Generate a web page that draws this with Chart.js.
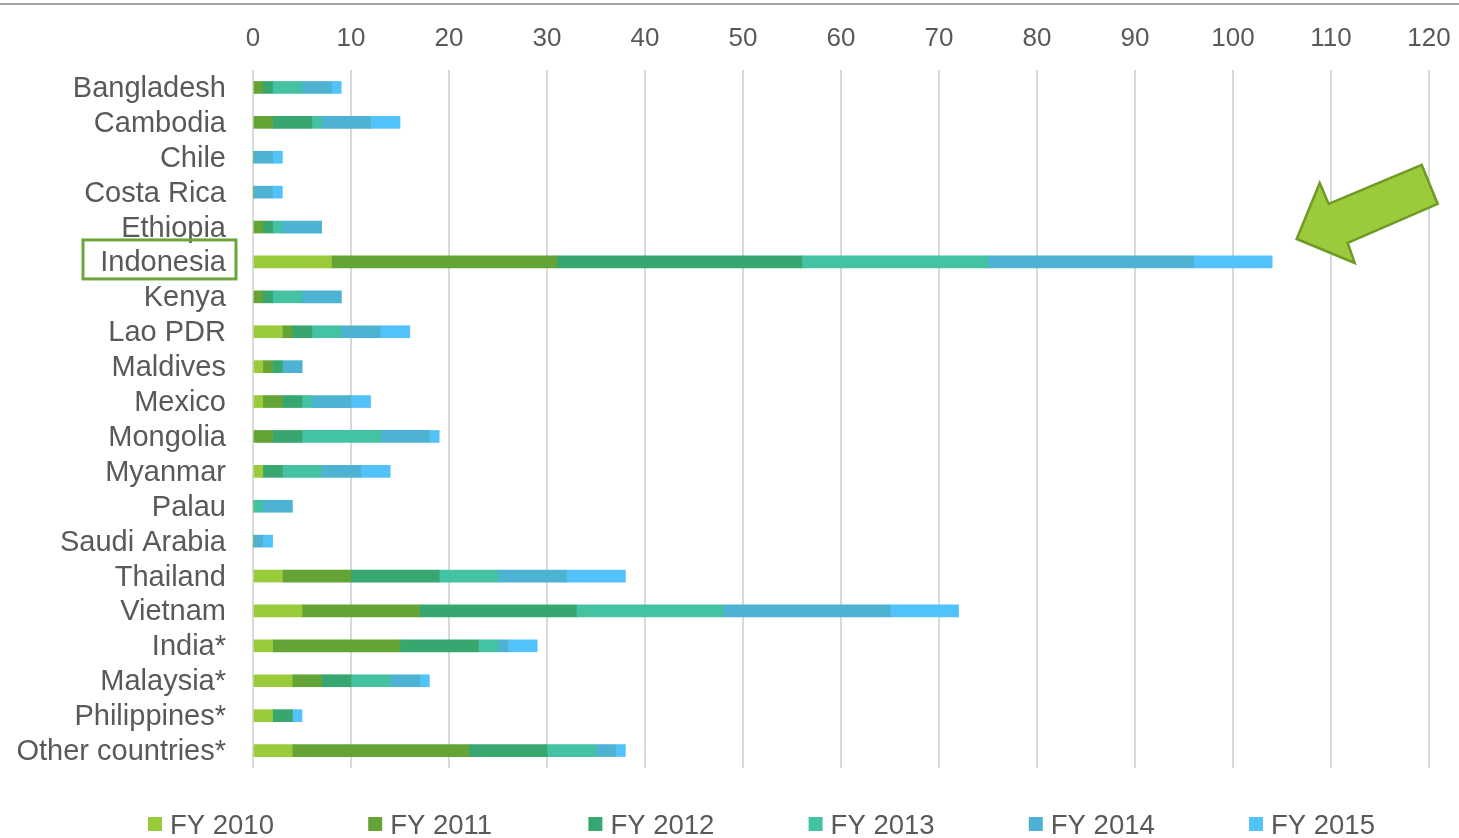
<!DOCTYPE html>
<html>
<head>
<meta charset="utf-8">
<script src="https://cdn.jsdelivr.net/npm/chart.js@4/dist/chart.umd.min.js"></script>
<style>
  html, body { margin: 0; padding: 0; background: #ffffff; overflow: hidden; }
  #wrap { width: 1459px; height: 838px; position: relative; }
</style>
</head>
<body>
<div id="wrap"><canvas id="c" width="1459" height="838"></canvas></div>
<script>
const countries = ['Bangladesh','Cambodia','Chile','Costa Rica','Ethiopia','Indonesia','Kenya','Lao PDR','Maldives','Mexico','Mongolia','Myanmar','Palau','Saudi Arabia','Thailand','Vietnam','India*','Malaysia*','Philippines*','Other countries*'];
const seriesNames = ['FY 2010','FY 2011','FY 2012','FY 2013','FY 2014','FY 2015'];
const fy2010 = [0,0,0,0,0,8,0,3,1,1,0,1,0,0,3,5,2,4,2,4];
const fy2011 = [1,2,0,0,1,23,1,1,1,2,2,0,0,0,7,12,13,3,0,18];
const fy2012 = [1,4,0,0,1,25,1,2,1,2,3,2,0,0,9,16,8,3,2,8];
const fy2013 = [3,1,0,0,1,19,3,3,0,1,8,4,1,0,6,15,2,4,0,5];
const fy2014 = [3,5,2,2,4,21,4,4,2,4,5,4,3,1,7,17,1,3,0,2];
const fy2015 = [1,3,1,1,0,8,0,3,0,2,1,3,0,1,6,7,3,1,1,1];
const xTicks = [0,10,20,30,40,50,60,70,80,90,100,110,120];
const colors = ['#9ACB3A','#64A437','#37A76F','#44C2A4','#4EB3D2','#52C3FA'];
const highlighted = 'Indonesia';

const seriesValues = [fy2010, fy2011, fy2012, fy2013, fy2014, fy2015];
const textColor = '#595959';
const fontFamily = '"Liberation Sans", Arial, sans-serif';

const decorPlugin = {
  id: 'decor',
  beforeDraw(chart) {
    const ctx = chart.ctx;
    ctx.save();
    ctx.fillStyle = '#ffffff';
    ctx.fillRect(0, 0, chart.width, chart.height);
    ctx.strokeStyle = '#a6a6a6';
    ctx.lineWidth = 2;
    ctx.beginPath();
    ctx.moveTo(0, 4);
    ctx.lineTo(chart.width, 4);
    ctx.stroke();
    ctx.restore();
  },
  afterDraw(chart) {
    const ctx = chart.ctx;
    const xs = chart.scales.x, ys = chart.scales.y;
    const idx = countries.indexOf(highlighted);
    const yc = ys.getPixelForValue(idx);
    ctx.save();
    // highlight box around label
    ctx.strokeStyle = '#6AA53A';
    ctx.lineWidth = 3;
    ctx.strokeRect(83, yc - 22, 153, 39);
    // arrow
    const tipX = xs.getPixelForValue(106.5);
    const tipY = yc - 23;
    const pts = [[0,0],[23,-56],[32,-35],[125,-74],[141,-35],[51,4],[58,24]];
    ctx.beginPath();
    pts.forEach((p, i) => {
      const px = tipX + p[0], py = tipY + p[1];
      if (i === 0) ctx.moveTo(px, py); else ctx.lineTo(px, py);
    });
    ctx.closePath();
    ctx.fillStyle = '#9BCA3C';
    ctx.fill();
    ctx.strokeStyle = '#6F9A25';
    ctx.lineWidth = 2.5;
    ctx.lineJoin = 'miter';
    ctx.stroke();
    // legend
    ctx.font = '27.5px ' + fontFamily;
    ctx.textBaseline = 'middle';
    ctx.textAlign = 'left';
    chart.data.datasets.forEach((ds, i) => {
      const x = 148 + i * 220.2;
      ctx.fillStyle = ds.backgroundColor;
      ctx.fillRect(x, 817, 14, 14);
      ctx.fillStyle = textColor;
      ctx.fillText(ds.label, x + 22, 826);
    });
    ctx.restore();
  }
};

new Chart(document.getElementById('c'), {
  type: 'bar',
  data: {
    labels: countries,
    datasets: seriesNames.map((name, i) => ({
      label: name,
      data: seriesValues[i],
      backgroundColor: colors[i],
      borderWidth: 0,
      barThickness: 12
    }))
  },
  options: {
    indexAxis: 'y',
    responsive: false,
    animation: false,
    layout: { padding: { top: 0, right: 30, bottom: 70, left: 0 } },
    plugins: {
      legend: { display: false },
      tooltip: { enabled: false }
    },
    scales: {
      x: {
        position: 'top',
        stacked: true,
        min: 0,
        max: 120,
        afterBuildTicks(scale) { scale.ticks = xTicks.map(v => ({ value: v })); },
        afterFit(scale) { scale.height = 70; scale.paddingRight = 0; scale.paddingLeft = 0; },
        ticks: {
          color: textColor,
          font: { family: fontFamily, size: 26 },
          padding: 16,
          maxRotation: 0,
          autoSkip: false
        },
        grid: { color: '#d9d9d9', lineWidth: 2, drawTicks: false },
        border: { display: false }
      },
      y: {
        stacked: true,
        afterFit(scale) { scale.width = 253; scale.paddingTop = 0; scale.paddingBottom = 0; },
        ticks: {
          color: textColor,
          font: { family: fontFamily, size: 29 },
          padding: 27,
          labelOffset: 1.5,
          autoSkip: false
        },
        grid: { display: false, drawTicks: false },
        border: { display: false }
      }
    }
  },
  plugins: [decorPlugin]
});
</script>
</body>
</html>
